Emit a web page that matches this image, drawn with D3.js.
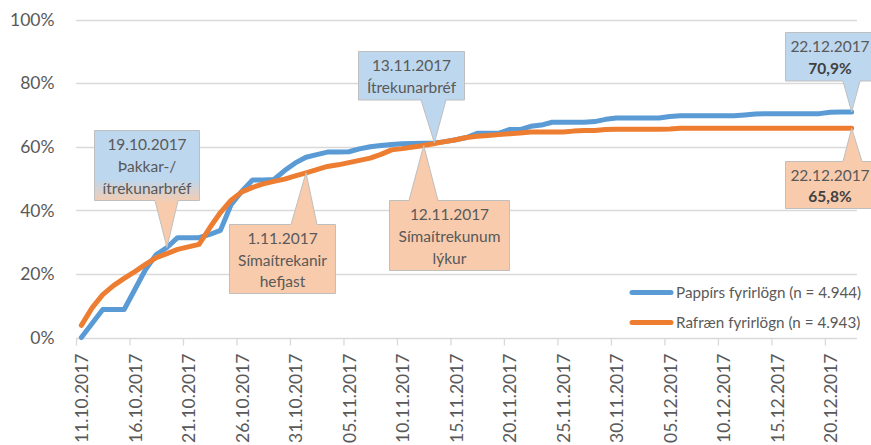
<!DOCTYPE html>
<html>
<head>
<meta charset="utf-8">
<script src="https://cdnjs.cloudflare.com/ajax/libs/d3/7.8.5/d3.min.js"></script>
<style>
  body { margin: 0; background: #fff; }
  text { font-family: Lato, "Open Sans", sans-serif; fill: #595959; }
</style>
</head>
<body>
<svg id="chart" width="871" height="445"></svg>
<script>
// cumulative response rate per day, 11.10.2017 - 22.12.2017
const firstDay = "11.10.2017";
const lastDay = "22.12.2017";
const paper = [
  0, 4.4, 8.8, 8.8, 8.8, 15.1, 21.4, 26.1, 28.3, 31.4,
  31.4, 31.4, 32.4, 33.7, 41.8, 46.0, 49.5, 49.5, 49.7, 52.5,
  54.9, 56.7, 57.5, 58.3, 58.3, 58.4, 59.3, 60.0, 60.4, 60.7,
  60.9, 61.0, 61.1, 61.2, 61.6, 62.2, 62.9, 64.2, 64.2, 64.2,
  65.4, 65.4, 66.4, 66.8, 67.7, 67.7, 67.7, 67.7, 67.9, 68.6,
  69.0, 69.0, 69.0, 69.0, 69.0, 69.5, 69.7, 69.7, 69.7, 69.7,
  69.7, 69.7, 70.0, 70.3, 70.4, 70.4, 70.4, 70.4, 70.4, 70.4,
  70.8, 70.9, 70.9
];
const electronic = [
  3.8, 9.3, 13.5, 16.3, 18.6, 20.7, 23.0, 25.1, 26.4, 27.7,
  28.5, 29.3, 34.5, 39.3, 43.2, 45.8, 47.2, 48.3, 49.1, 49.8,
  50.8, 51.8, 52.8, 53.8, 54.3, 55.0, 55.7, 56.4, 57.6, 59.0,
  59.4, 59.9, 60.4, 61.0, 61.6, 62.2, 62.9, 63.3, 63.5, 63.8,
  64.1, 64.3, 64.6, 64.6, 64.6, 64.6, 64.9, 65.1, 65.1, 65.4,
  65.5, 65.5, 65.5, 65.5, 65.5, 65.6, 65.8, 65.8, 65.8, 65.8,
  65.8, 65.8, 65.8, 65.8, 65.8, 65.8, 65.8, 65.8, 65.8, 65.8,
  65.8, 65.8, 65.8
];
const seriesNames = ["Pappírs fyrirlögn (n = 4.944)", "Rafræn fyrirlögn (n = 4.943)"];
const yTicks = [0, 20, 40, 60, 80, 100];
const tickStepDays = 5;

// annotations: date, which series the pointer hits, text
const calloutDates = ["19.10.2017", "1.11.2017", "13.11.2017", "12.11.2017", "22.12.2017", "22.12.2017"];
const calloutSeries = [0, 1, 0, 1, 0, 1];
const calloutText = [
  ["19.10.2017", "Þakkar-/", "ítrekunarbréf"],
  ["1.11.2017", "Símaítrekanir", "hefjast"],
  ["13.11.2017", "Ítrekunarbréf"],
  ["12.11.2017", "Símaítrekunum", "lýkur"],
  ["22.12.2017", "70,9%"],
  ["22.12.2017", "65,8%"]
];

const blue = "#5b9bd5";
const orange = "#ed7d31";
const lightBlue = "#bdd7ee";
const peach = "#f8cbad";
const grid = "#d9d9d9";

const width = 871, height = 445;
const margin = { top: 20, right: 14, bottom: 107, left: 76 };

const parseDay = d3.utcParse("%d.%m.%Y");
const start = parseDay(firstDay);
const end = d3.utcDay.offset(parseDay(lastDay), 1);
const dayCenter = (i) => d3.utcHour.offset(d3.utcDay.offset(start, i), 12);

const x = d3.scaleUtc()
  .domain([start, end])
  .range([margin.left, width - margin.right]);
const y = d3.scaleLinear()
  .domain([0, 100])
  .range([height - margin.bottom - 0.5, margin.top - 0.5]);

const svg = d3.select("#chart");

const defs = svg.append("defs");
const grad = defs.append("linearGradient")
  .attr("id", "mix").attr("x1", 0).attr("y1", 0).attr("x2", 0).attr("y2", 1);
grad.append("stop").attr("offset", "0.42").attr("stop-color", lightBlue);
grad.append("stop").attr("offset", "0.62").attr("stop-color", peach);

// gridlines
svg.append("g")
  .selectAll("line")
  .data(yTicks)
  .enter()
  .append("line")
  .attr("x1", margin.left)
  .attr("x2", width - margin.right)
  .attr("y1", (d) => Math.round(y(d)) + 0.5)
  .attr("y2", (d) => Math.round(y(d)) + 0.5)
  .style("stroke", grid)
  .style("stroke-width", 1.3);

svg.append("g")
  .selectAll("text")
  .data(yTicks)
  .enter()
  .append("text")
  .attr("x", 54.5)
  .attr("y", (d) => y(d))
  .attr("dy", "0.36em")
  .attr("text-anchor", "end")
  .attr("font-size", 17.5)
  .text((d) => d + "%");

// x axis, ticks every five days, labels centered on the day
const tickDates = d3.range(0, d3.utcDay.count(start, end) + 1, tickStepDays)
  .map((k) => d3.utcDay.offset(start, k));
const xAxis = svg.append("g")
  .attr("transform", `translate(0,${Math.round(y(0)) + 0.5})`)
  .call(d3.axisBottom(x)
    .tickValues(tickDates)
    .tickSize(7)
    .tickFormat(d3.utcFormat("%d.%m.%Y")));
xAxis.select(".domain").remove();
xAxis.selectAll(".tick line").style("stroke", grid).style("stroke-width", 1.3);
const halfDay = x(dayCenter(0)) - x(start);
xAxis.selectAll(".tick text")
  .attr("transform", `translate(${halfDay},0) rotate(-90)`)
  .attr("x", -15)
  .attr("y", 0)
  .attr("dy", "0.36em")
  .attr("text-anchor", "end")
  .attr("font-size", 17.5)
  .attr("font-family", "Lato")
  .style("fill", "#595959");

// series lines
const line = d3.line()
  .x((d, i) => x(dayCenter(i)))
  .y((d) => y(d));

[paper, electronic].forEach((values, k) => {
  svg.append("path")
    .datum(values)
    .attr("d", line)
    .style("fill", "none")
    .style("stroke", k === 0 ? blue : orange)
    .style("stroke-width", 5)
    .style("stroke-linejoin", "round")
    .style("stroke-linecap", "round");
});

// callout boxes (layout only), pointer tip comes from the scales
const boxes = [
  { x: 94.5, y: 130.5, w: 105, h: 70, base: [155, 178], fill: "url(#mix)" },
  { x: 229.5, y: 224.5, w: 106, h: 69, base: [291, 317], fill: peach },
  { x: 358.5, y: 51.5, w: 106, h: 48.5, base: [421, 446], fill: lightBlue },
  { x: 389.5, y: 200.5, w: 120, h: 70, base: [409, 438], fill: peach },
  { x: 785.5, y: 32.5, w: 92, h: 48.5, base: [843, 860], fill: lightBlue },
  { x: 785.5, y: 161.5, w: 92, h: 47, base: [843, 862], fill: peach }
];
const seriesData = [paper, electronic];

boxes.forEach((b, i) => {
  const day = d3.utcDay.count(start, parseDay(calloutDates[i]));
  const tx = x(dayCenter(day));
  const ty = y(seriesData[calloutSeries[i]][day]);
  const below = ty < b.y; // box sits under the line
  let p;
  if (below) {
    p = `M${b.x},${b.y}H${b.base[0]}L${tx},${ty}L${b.base[1]},${b.y}H${b.x + b.w}V${b.y + b.h}H${b.x}Z`;
  } else {
    const yb = b.y + b.h;
    p = `M${b.x},${b.y}H${b.x + b.w}V${yb}H${b.base[1]}L${tx},${ty}L${b.base[0]},${yb}H${b.x}Z`;
  }
  svg.append("path")
    .attr("d", p)
    .style("fill", b.fill)
    .style("stroke", "#bfbfbf")
    .style("stroke-width", 1);

  const lines = calloutText[i];
  const lh = 21.7;
  const cy = b.y + b.h / 2 - (lines.length - 1) * lh / 2;
  const last = i >= 4;
  svg.append("g")
    .selectAll("text")
    .data(lines)
    .enter()
    .append("text")
    .attr("x", last ? 830 : b.x + b.w / 2)
    .attr("y", (d, j) => cy + j * lh + 1)
    .attr("dy", "0.36em")
    .attr("text-anchor", "middle")
    .attr("font-size", 15.5)
    .attr("font-weight", (d, j) => (last && j === 1 ? "bold" : "normal"))
    .style("fill", (d, j) => (last && j === 1 ? "#404040" : "#595959"))
    .text((d) => d);
});

// legend
const legend = svg.append("g")
  .selectAll("g")
  .data(seriesNames)
  .enter()
  .append("g")
  .attr("transform", (d, i) => `translate(632,${292.5 + i * 30})`);
legend.append("line")
  .attr("x1", 0).attr("x2", 39)
  .style("stroke", (d, i) => (i === 0 ? blue : orange))
  .style("stroke-width", 5)
  .style("stroke-linecap", "round");
legend.append("text")
  .attr("x", 44)
  .attr("dy", "0.36em")
  .attr("font-size", 15.2)
  .text((d) => d);
</script>
</body>
</html>
